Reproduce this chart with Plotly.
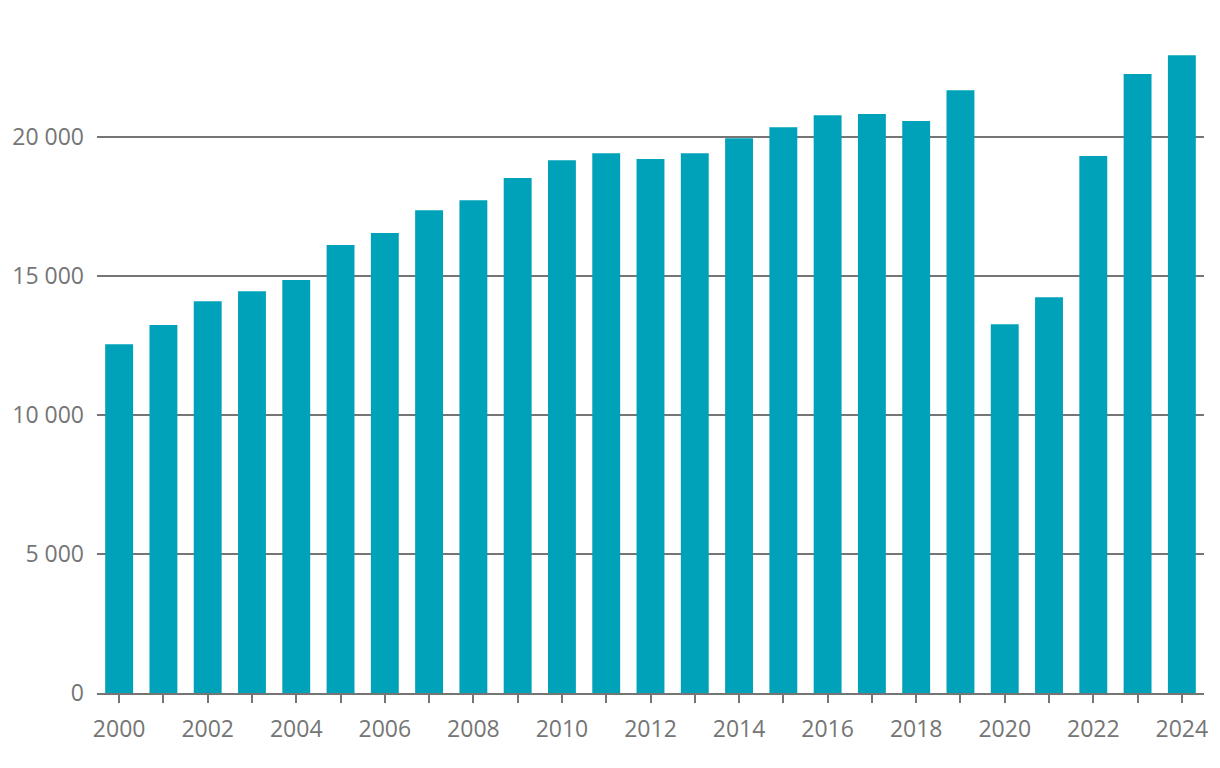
import plotly.graph_objects as go

years = list(range(2000, 2025))
values = [12550, 13240, 14100, 14460, 14860, 16120, 16550, 17370, 17730, 18530,
          19170, 19420, 19210, 19420, 19960, 20360, 20790, 20830, 20580, 21690,
          13270, 14240, 19320, 22270, 22950]
y_tickvals = [0, 5000, 10000, 15000, 20000]
y_ticktext = ["0", "5 000", "10 000", "15 000", "20 000"]
x_ticktext = [str(y) if y % 2 == 0 else "" for y in years]

fig = go.Figure(go.Bar(x=years, y=values, marker_color="#00A2B9", marker_line_width=0))

fig.update_layout(
    width=1220, height=768,
    margin=dict(l=89, r=24, t=18, b=83),
    paper_bgcolor="white", plot_bgcolor="white",
    bargap=0.37,
    showlegend=False,
    font=dict(family="Open Sans", size=23, color="#757575"),
)
fig.update_xaxes(
    range=[1999.5, 2024.5],
    tickvals=years, ticktext=x_ticktext,
    ticks="outside", ticklen=8, tickwidth=2, tickcolor="#757575",
    showline=True, linecolor="#757575", linewidth=2,
    showgrid=False, zeroline=False, ticklabelstandoff=6,
    automargin=False,
)
fig.update_yaxes(
    range=[0, 24000],
    tickvals=y_tickvals, ticktext=y_ticktext,
    showgrid=True, gridcolor="#757575", gridwidth=2,
    zeroline=False, showline=False, ticks="", ticklabelstandoff=12,
    layer="below traces", automargin=False,
)

fig.write_html("out.html")
